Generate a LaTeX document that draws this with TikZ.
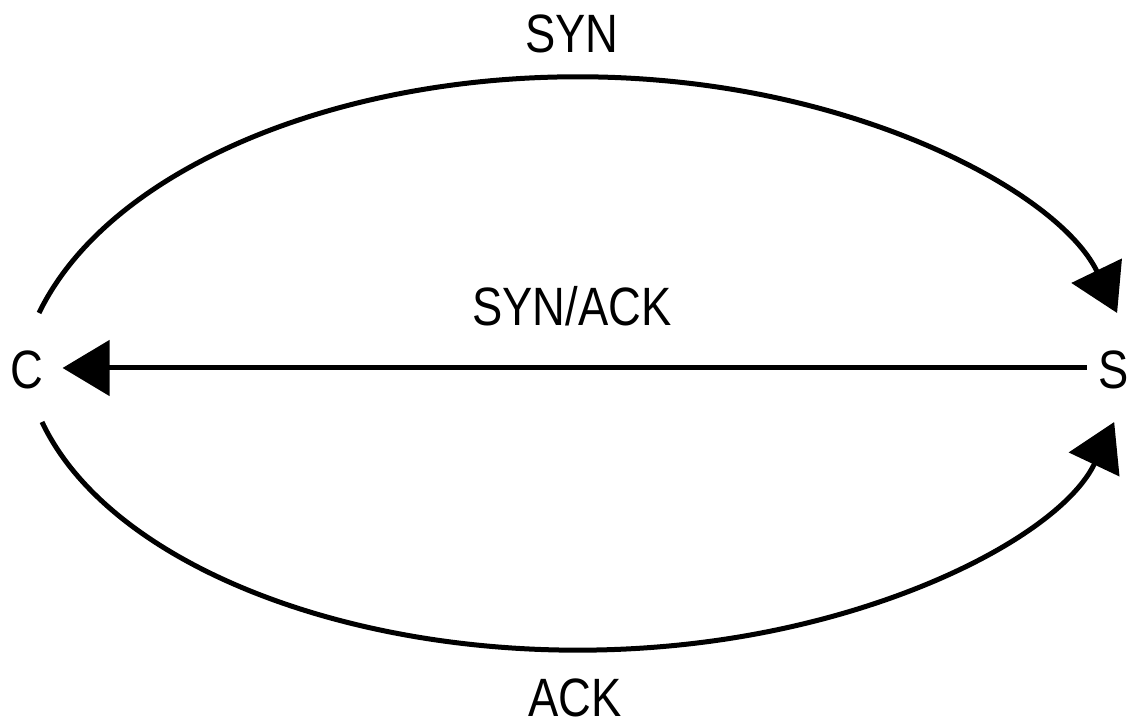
\documentclass[tikz,border=0pt]{standalone}
\usepackage{fontspec}
\setmainfont{Liberation Sans}[FakeStretch=0.84]
\usetikzlibrary{arrows.meta}
\begin{document}
\begin{tikzpicture}[x=1pt,y=1pt,
  lbl/.style={font=\fontsize{54}{60}\selectfont, inner sep=0pt, anchor=base},
  endpt/.style={font=\fontsize{54}{60}\selectfont, inner xsep=19pt, inner ysep=0pt},
  conn/.style={line width=5pt, -{Triangle[length=47pt,width=55pt]}}]
\useasboundingbox (0,0) rectangle (1130,727);
\node[endpt] (C) at (27,357) {C};
\node[endpt, inner xsep=12pt] (S) at (1114,357) {S};
\node[lbl] (syn) at (572,674) {SYN};
\node[lbl] (synack) at (572,401) {SYN/ACK};
\node[lbl] (ack) at (575,10) {ACK};
% top arc: C -> S
\draw[conn] ([shift={(12,57)}]C.center) arc[start angle=164.4, end angle=15.6, x radius=559.7, y radius=323];
% middle: S -> C
\draw[conn] ([yshift=2pt]S.west) -- ([yshift=2pt]C.east);
% bottom arc: C -> S
\draw[conn] ([shift={(15,-52)}]C.center) arc[start angle=194.6, end angle=345.4, x radius=554, y radius=305];
\end{tikzpicture}
\end{document}
